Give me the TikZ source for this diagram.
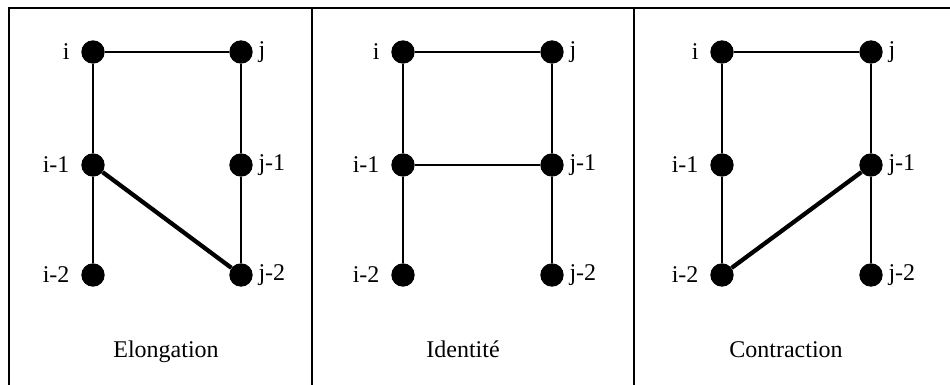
\documentclass[tikz,border=0pt]{standalone}
\usepackage{fontspec}
\setmainfont{Liberation Serif}
\usepackage{tikz}

\begin{document}
\begin{tikzpicture}[x=0.75pt,y=-0.75pt,
	site/.style={circle,fill=black,inner sep=0pt,minimum size=17.5pt},
	lbl/.style={inner sep=0pt,font=\fontsize{18}{21}\selectfont},
	left lbl/.style={label={[lbl,label distance=8.5pt]left:#1}},
	right lbl/.style={label={[lbl,label distance=4pt]right:#1}},
	bond/.style={line width=1.2pt},
	newbond/.style={line width=3.2pt}]
			\useasboundingbox (0,0) rectangle (950,385);
			\draw[line width=1.2pt] (9,385) -- (9,8) -- (950,8);
			\draw[line width=1.2pt] (312,8) -- (312,385);
			\draw[line width=1.2pt] (634,8) -- (634,385);
			% Elongation
			\node[site,left lbl=i] (ei) at (93,52) {};
			\node[site,right lbl=j] (ej) at (241,52) {};
			\node[site,left lbl=i-1] (ei1) at (93,165) {};
			\node[site,right lbl=j-1] (ej1) at (241,165) {};
			\node[site,left lbl=i-2] (ei2) at (93,275) {};
			\node[site,right lbl=j-2] (ej2) at (241,275) {};
			\draw[bond] (ei) -- (ej);
			\draw[bond] (ei) -- (ei1) -- (ei2);
			\draw[bond] (ej) -- (ej1) -- (ej2);
			\draw[newbond] (ei1) -- (ej2);
			\node[lbl,anchor=base] (etxt) at (166,357) {Elongation};
			% Identite
			\node[site,left lbl=i] (ii) at (403,52) {};
			\node[site,right lbl=j] (ij) at (552,52) {};
			\node[site,left lbl=i-1] (ii1) at (403,165) {};
			\node[site,right lbl=j-1] (ij1) at (552,165) {};
			\node[site,left lbl=i-2] (ii2) at (403,275) {};
			\node[site,right lbl=j-2] (ij2) at (552,275) {};
			\draw[bond] (ii) -- (ij);
			\draw[bond] (ii) -- (ii1) -- (ii2);
			\draw[bond] (ij) -- (ij1) -- (ij2);
			\draw[line width=0.9pt] (ii1) -- (ij1);
			\node[lbl,anchor=base] (itxt) at (463,357) {Identité};
			% Contraction
			\node[site,left lbl=i] (ci) at (722,52) {};
			\node[site,right lbl=j] (cj) at (871,52) {};
			\node[site,left lbl=i-1] (ci1) at (722,165) {};
			\node[site,right lbl=j-1] (cj1) at (871,165) {};
			\node[site,left lbl=i-2] (ci2) at (722,275) {};
			\node[site,right lbl=j-2] (cj2) at (871,275) {};
			\draw[bond] (ci) -- (cj);
			\draw[bond] (ci) -- (ci1) -- (ci2);
			\draw[bond] (cj) -- (cj1) -- (cj2);
			\draw[newbond] (ci2) -- (cj1);
			\node[lbl,anchor=base] (ctxt) at (786,357) {Contraction};
		\end{tikzpicture}
\end{document}
